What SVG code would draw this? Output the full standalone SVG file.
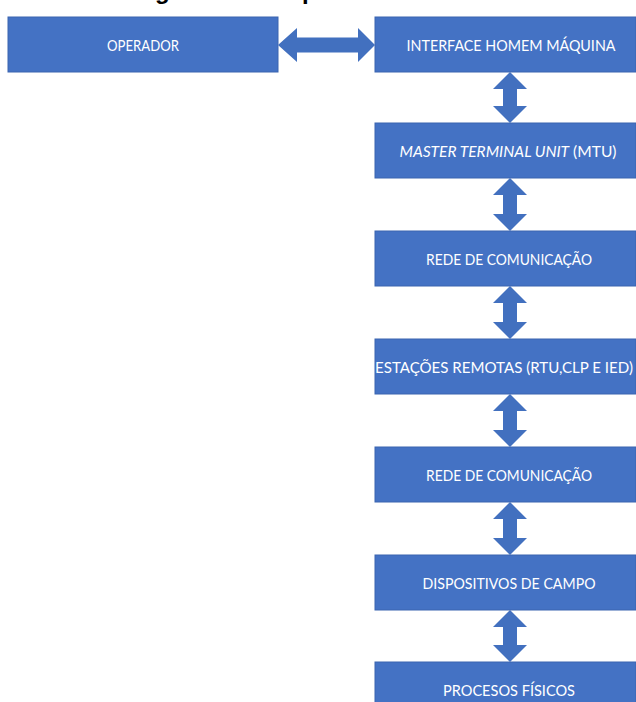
<svg xmlns="http://www.w3.org/2000/svg" width="636" height="702" viewBox="0 0 636 702">
<defs>
<style>
.box{fill:#4472C4;stroke:#3A64B0;stroke-width:1}
.lbl{fill:#ffffff;font-family:Lato,"Open Sans","Liberation Sans",sans-serif;font-size:16px;text-anchor:middle}
.arr{fill:#4270BF;stroke:none}
.title{fill:#000;font-family:"Liberation Sans",Arial,sans-serif;font-weight:bold;font-size:24px}
</style>
</defs>
<rect width="636" height="702" fill="#ffffff"/>
<g id="title">
<text class="title" x="155" y="-1">g</text>
<text class="title" x="302" y="-1">p</text>
</g>
<g id="connectors">
<polygon class="arr" points="278,45 297,28 297,37.5 358,37.5 358,28 375,45 358,62 358,52.5 297,52.5 297,62"/>
<polygon class="arr" points="510,72 527,89 517,89 517,106 527,106 510,123 493,106 503,106 503,89 493,89"/>
<polygon class="arr" points="510,178 527,195 517,195 517,214 527,214 510,231 493,214 503,214 503,195 493,195"/>
<polygon class="arr" points="510,286 527,303 517,303 517,322 527,322 510,339 493,322 503,322 503,303 493,303"/>
<polygon class="arr" points="510,394 527,411 517,411 517,430 527,430 510,447 493,430 503,430 503,411 493,411"/>
<polygon class="arr" points="510,502 527,519 517,519 517,538 527,538 510,555 493,538 503,538 503,519 493,519"/>
<polygon class="arr" points="510,610 527,627 517,627 517,645 527,645 510,662 493,645 503,645 503,627 493,627"/>
</g>
<g id="operador">
<rect class="box" x="8" y="17" width="270" height="55"/>
<text class="lbl" x="143" y="50.5" textLength="72" lengthAdjust="spacingAndGlyphs">OPERADOR</text>
</g>
<g id="ihm">
<rect class="box" x="375" y="17" width="261" height="55"/>
<text class="lbl" x="511" y="50.5" textLength="209" lengthAdjust="spacingAndGlyphs">INTERFACE HOMEM MÁQUINA</text>
</g>
<g id="mtu">
<rect class="box" x="375" y="123" width="261" height="55"/>
<text class="lbl" x="508" y="156.5" textLength="217" lengthAdjust="spacingAndGlyphs"><tspan font-style="italic">MASTER TERMINAL UNIT</tspan> (MTU)</text>
</g>
<g id="rede1">
<rect class="box" x="375" y="231" width="261" height="55"/>
<text class="lbl" x="509" y="264.5" textLength="166" lengthAdjust="spacingAndGlyphs">REDE DE COMUNICAÇÃO</text>
</g>
<g id="estacoes">
<rect class="box" x="375" y="339" width="261" height="55"/>
<text class="lbl" x="504" y="372.5" textLength="258" lengthAdjust="spacingAndGlyphs">ESTAÇÕES REMOTAS (RTU,CLP E IED)</text>
</g>
<g id="rede2">
<rect class="box" x="375" y="447" width="261" height="55"/>
<text class="lbl" x="509" y="480.5" textLength="166" lengthAdjust="spacingAndGlyphs">REDE DE COMUNICAÇÃO</text>
</g>
<g id="dispositivos">
<rect class="box" x="375" y="555" width="261" height="55"/>
<text class="lbl" x="509" y="588.5" textLength="173" lengthAdjust="spacingAndGlyphs">DISPOSITIVOS DE CAMPO</text>
</g>
<g id="processos">
<rect class="box" x="375" y="662" width="261" height="55"/>
<text class="lbl" x="509" y="695.5" textLength="132" lengthAdjust="spacingAndGlyphs">PROCESOS FÍSICOS</text>
</g>
</svg>
